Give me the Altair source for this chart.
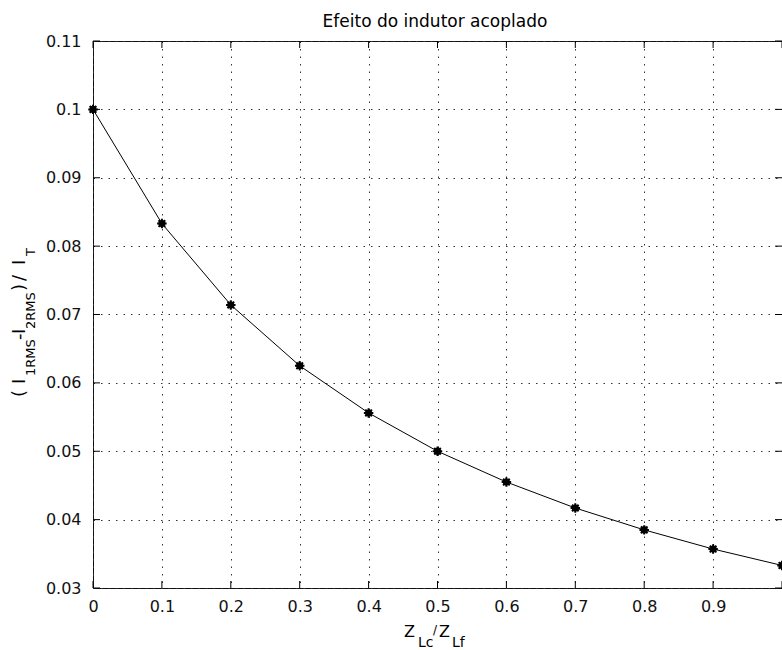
import altair as alt
import pandas as pd

# data
x_vals = [0.0, 0.1, 0.2, 0.3, 0.4, 0.5, 0.6, 0.7, 0.8, 0.9, 1.0]
y_vals = [0.1, 0.0833, 0.0714, 0.0625, 0.0556, 0.0500, 0.0455, 0.0417, 0.0385, 0.0357, 0.0333]
x_ticks = [0.0, 0.1, 0.2, 0.3, 0.4, 0.5, 0.6, 0.7, 0.8, 0.9, 1.0]
x_label_ticks = [0.0, 0.1, 0.2, 0.3, 0.4, 0.5, 0.6, 0.7, 0.8, 0.9]
y_ticks = [0.03, 0.04, 0.05, 0.06, 0.07, 0.08, 0.09, 0.1, 0.11]
title_text = "Efeito do indutor acoplado"

W, H = 689, 547
FONT = "DejaVu Sans"

df = pd.DataFrame({"x": x_vals, "y": y_vals})
xt = pd.DataFrame({"x": x_ticks})
yt = pd.DataFrame({"y": y_ticks})

xs = alt.Scale(domain=[0, 1], nice=False, zero=False)
ys = alt.Scale(domain=[0.03, 0.11], nice=False, zero=False)

x_axis = alt.Axis(values=x_label_ticks, format=".1~f", title=None, grid=True,
                  gridDash=[1.5, 6], gridColor="#333", gridWidth=1, ticks=False,
                  domain=False, labelFont=FONT, labelFontSize=16, labelColor="#111",
                  labelPadding=10, labelFlush=False, labelOverlap=False)
y_axis = alt.Axis(values=y_ticks, format=".2~f", title=None, grid=True,
                  gridDash=[1.5, 6], gridColor="#333", gridWidth=1, ticks=False,
                  domain=False, labelFont=FONT, labelFontSize=16, labelColor="#111",
                  labelPadding=12, labelFlush=False, labelOverlap=False)

X = alt.X("x:Q", scale=xs, axis=x_axis)
Y = alt.Y("y:Q", scale=ys, axis=y_axis)

base = alt.Chart(df)
line = base.mark_line(color="black", strokeWidth=1).encode(x=X, y=Y)
asterisk = "M-1,0L1,0M0,-1L0,1M-0.7,-0.7L0.7,0.7M-0.7,0.7L0.7,-0.7"
pts_star = base.mark_point(shape=asterisk, filled=False, color="black",
                           strokeWidth=2, size=90, opacity=1).encode(x=X, y=Y)
pts_dot = base.mark_circle(color="black", size=50, opacity=1).encode(x=X, y=Y)

tick_len = 7
xt_bottom = alt.Chart(xt).mark_rule(color="black", strokeWidth=1).encode(
    x=X, y=alt.value(H), y2=alt.value(H - tick_len))
xt_top = alt.Chart(xt).mark_rule(color="black", strokeWidth=1).encode(
    x=X, y=alt.value(0), y2=alt.value(tick_len))
yt_left = alt.Chart(yt).mark_rule(color="black", strokeWidth=1).encode(
    y=Y, x=alt.value(0), x2=alt.value(tick_len))
yt_right = alt.Chart(yt).mark_rule(color="black", strokeWidth=1).encode(
    y=Y, x=alt.value(W - tick_len), x2=alt.value(W))


def txt(s, x, y, size, angle=0, align="left"):
    kw = dict(text=s, font=FONT, fontSize=size, color="black", align=align,
              baseline="alphabetic")
    if angle:
        kw["angle"] = angle
    return alt.Chart(pd.DataFrame({"t": [s]})).mark_text(**kw).encode(
        x=alt.value(x), y=alt.value(y))


title = txt(title_text, 342, -14, 17, align="center")

xlab = [
    txt("Z", 311, 596, 16),
    txt("Lc", 325, 606, 14),
    txt("/", 340, 593, 12),
    txt("Z", 346, 596, 16),
    txt("Lf", 359, 606, 14),
]
MX, SX = -68, -58
ylab = [
    txt("(", MX, 356, 18, angle=270),
    txt("I", MX, 343, 18, angle=270),
    txt("1RMS", SX, 335, 13, angle=270),
    txt("-", MX, 299, 18, angle=270),
    txt("I", MX, 293, 18, angle=270),
    txt("2RMS", SX, 288, 13, angle=270),
    txt(")", MX, 250, 18, angle=270),
    txt("/", MX, 240, 18, angle=270),
    txt("I", MX, 224, 18, angle=270),
    txt("T", SX, 215, 13, angle=270),
]

chart = alt.layer(
    line, xt_bottom, xt_top, yt_left, yt_right, pts_dot, pts_star, title, *xlab, *ylab
).properties(
    width=W, height=H, autosize="none",
    padding={"left": 93, "top": 41, "right": 0, "bottom": 62},
    background="white",
).configure_view(stroke="#111", strokeWidth=1)

chart.save("out.html", embed_options={"renderer": "svg", "actions": False})
